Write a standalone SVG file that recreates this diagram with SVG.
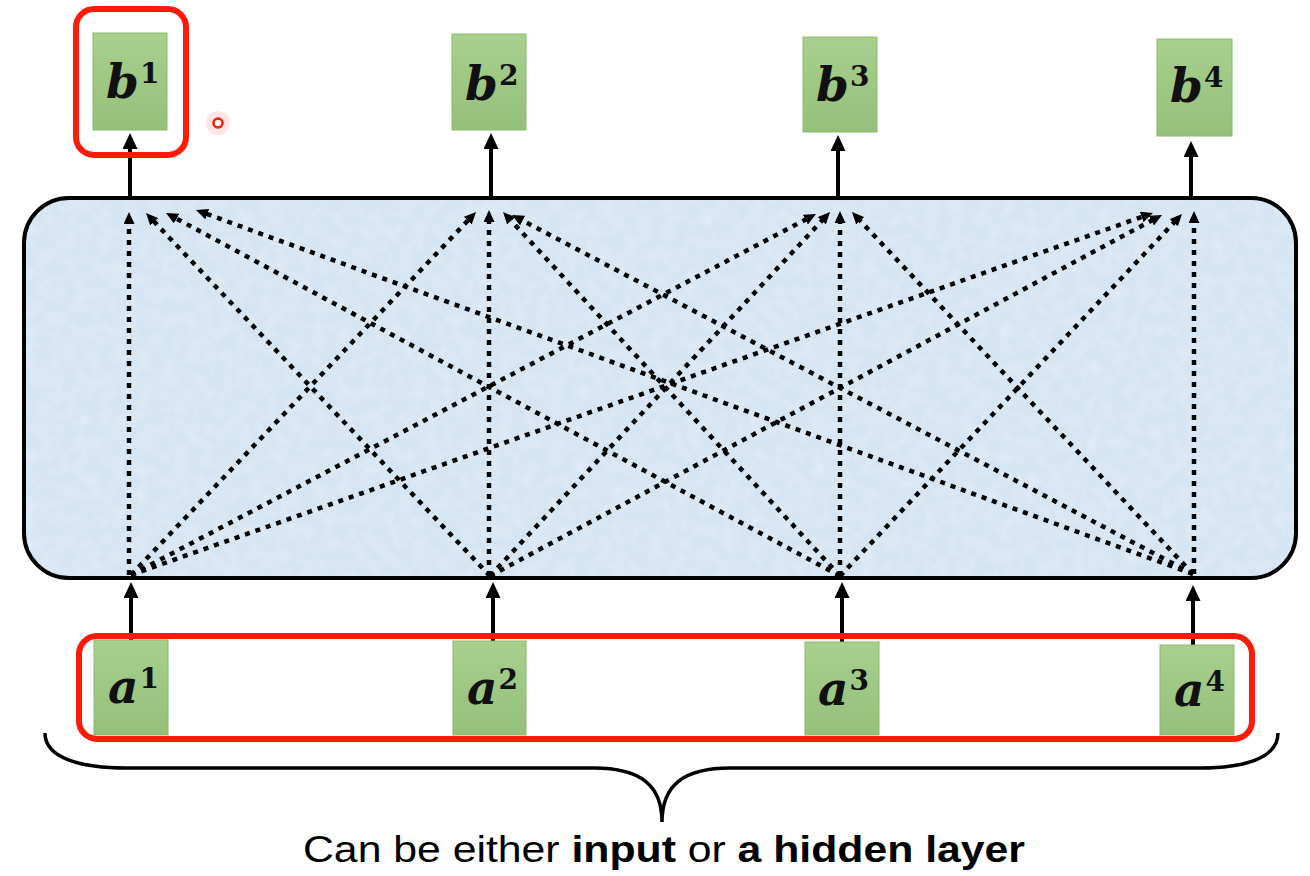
<svg xmlns="http://www.w3.org/2000/svg" width="1310" height="876" viewBox="0 0 1310 876">
<style>
.node{fill:url(#g);stroke:#8cb96e;stroke-width:1}
.lbl{font-family:"DejaVu Serif","Liberation Serif",serif;font-weight:bold;font-style:italic;font-size:47px;fill:#111}
.dot{stroke:#000;stroke-width:4.5;stroke-dasharray:5 6;fill:none;marker-end:url(#hd)}
.sol{stroke:#000;stroke-width:4;fill:none;marker-end:url(#hs)}
.red{fill:none;stroke:#ff1a0a;stroke-width:6}
</style>
<defs>
<linearGradient id="g" x1="0" y1="0" x2="0" y2="1">
<stop offset="0" stop-color="#a8cf8e"/>
<stop offset="1" stop-color="#95c07a"/>
</linearGradient>
<filter id="tex" x="0" y="0" width="100%" height="100%">
<feTurbulence type="fractalNoise" baseFrequency="0.08" numOctaves="2" seed="3"/>
<feColorMatrix type="matrix" values="0 0 0 0 1  0 0 0 0 1  0 0 0 0 1  0 0 0 -1.6 1.05"/>
</filter>
<marker id="hd" markerUnits="userSpaceOnUse" markerWidth="12" markerHeight="11" refX="6" refY="5.5" orient="auto">
<path d="M0,0 L12,5.5 L0,11 z" fill="#000"/>
</marker>
<marker id="hs" markerUnits="userSpaceOnUse" markerWidth="16" markerHeight="15" refX="8" refY="7.5" orient="auto">
<path d="M0,0 L16,7.5 L0,15 z" fill="#000"/>
</marker>
</defs>
<rect width="1310" height="876" fill="#fff"/>

<g id="layer">
<rect x="24" y="198" width="1272" height="380" rx="45" fill="#d6e5f3"/>
<rect x="24" y="198" width="1272" height="380" rx="45" fill="#fff" opacity="0.25" filter="url(#tex)"/>
<rect x="24" y="198" width="1272" height="380" rx="45" fill="none" stroke="#000" stroke-width="4"/>
</g>

<g id="connectors">
<line class="dot" x1="129" y1="575" x2="129" y2="218"/>
<line class="dot" x1="490" y1="576" x2="150.1" y2="217.4"/>
<line class="dot" x1="840" y1="576" x2="171.3" y2="215.8"/>
<line class="dot" x1="1193" y1="574" x2="201.6" y2="212.1"/>

<line class="dot" x1="131" y1="575" x2="471.9" y2="216.3"/>
<line class="dot" x1="489" y1="576" x2="489" y2="216"/>
<line class="dot" x1="840" y1="576" x2="507.1" y2="216.4"/>
<line class="dot" x1="1193" y1="574" x2="517.3" y2="217.8"/>

<line class="dot" x1="131" y1="575" x2="810.7" y2="216.8"/>
<line class="dot" x1="490" y1="576" x2="825.9" y2="216.4"/>
<line class="dot" x1="840" y1="576" x2="840" y2="217"/>
<line class="dot" x1="1193" y1="574" x2="856.1" y2="216.4"/>

<line class="dot" x1="131" y1="575" x2="1147.3" y2="215"/>
<line class="dot" x1="490" y1="576" x2="1156.7" y2="217.8"/>
<line class="dot" x1="840" y1="576" x2="1177.9" y2="218.4"/>
<line class="dot" x1="1194" y1="574" x2="1194" y2="217"/>

<line class="sol" x1="130" y1="197" x2="130" y2="141"/>
<line class="sol" x1="491" y1="197" x2="491" y2="141"/>
<line class="sol" x1="838" y1="197" x2="838" y2="143"/>
<line class="sol" x1="1191" y1="197" x2="1191" y2="149"/>

<line class="sol" x1="131" y1="640" x2="131" y2="590"/>
<line class="sol" x1="493" y1="641" x2="493" y2="590"/>
<line class="sol" x1="842" y1="642" x2="842" y2="590"/>
<line class="sol" x1="1193" y1="645" x2="1193" y2="593"/>
</g>

<g id="b1"><rect class="node" x="93" y="33" width="74" height="97"/><text class="lbl" x="106" y="98">b<tspan dx="1" dy="-15" style="font-size:28px;font-style:normal">1</tspan></text></g>
<g id="b2"><rect class="node" x="452" y="34" width="74" height="96"/><text class="lbl" x="465" y="100">b<tspan dx="1" dy="-15" style="font-size:28px;font-style:normal">2</tspan></text></g>
<g id="b3"><rect class="node" x="803" y="37" width="74" height="95"/><text class="lbl" x="816" y="101">b<tspan dx="1" dy="-15" style="font-size:28px;font-style:normal">3</tspan></text></g>
<g id="b4"><rect class="node" x="1157" y="39" width="75" height="97"/><text class="lbl" x="1170" y="102">b<tspan dx="1" dy="-15" style="font-size:28px;font-style:normal">4</tspan></text></g>

<g id="a1"><rect class="node" x="94" y="640" width="74" height="95"/><text class="lbl" x="108" y="703">a<tspan dx="1" dy="-15" style="font-size:28px;font-style:normal">1</tspan></text></g>
<g id="a2"><rect class="node" x="453" y="641" width="73" height="94"/><text class="lbl" x="467" y="704">a<tspan dx="1" dy="-15" style="font-size:28px;font-style:normal">2</tspan></text></g>
<g id="a3"><rect class="node" x="805" y="642" width="74" height="93"/><text class="lbl" x="818" y="705">a<tspan dx="1" dy="-15" style="font-size:28px;font-style:normal">3</tspan></text></g>
<g id="a4"><rect class="node" x="1160" y="645" width="74" height="90"/><text class="lbl" x="1174" y="706">a<tspan dx="1" dy="-15" style="font-size:28px;font-style:normal">4</tspan></text></g>

<g id="highlights">
<rect class="red" x="76" y="9" width="110" height="146" rx="18"/>
<rect class="red" x="79" y="636" width="1173" height="103" rx="18"/>
<circle cx="218" cy="123" r="12" fill="#ff3020" opacity="0.12"/>
<circle cx="218" cy="123" r="4.5" fill="#fff" stroke="#ff1a0a" stroke-width="2.5"/>
</g>

<g id="brace">
<path d="M45,733 C45,758 80,768 127,768 L594,768 C640,768 662,785 662,822 C662,785 684,768 730,768 L1200,768 C1245,768 1278,758 1278,733" fill="none" stroke="#000" stroke-width="3.5"/>
<text x="303" y="862" textLength="722" lengthAdjust="spacingAndGlyphs" font-family="'Liberation Sans',Arial,sans-serif" font-size="37" fill="#000">Can be either <tspan font-weight="bold">input</tspan> or <tspan font-weight="bold">a hidden layer</tspan></text>
</g>
</svg>
